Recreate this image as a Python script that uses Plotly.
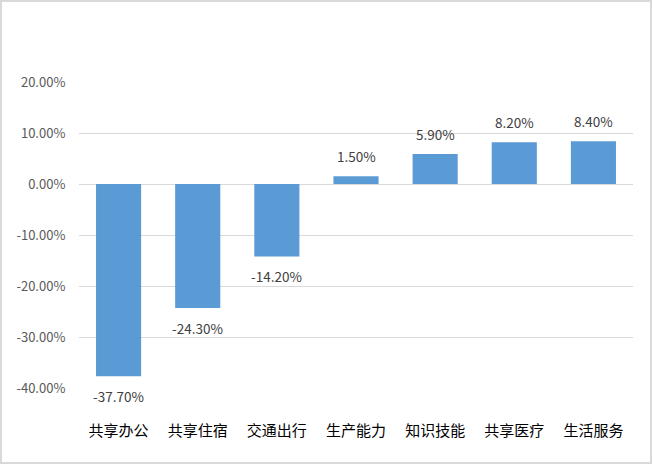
import plotly.graph_objects as go

categories = ["共享办公", "共享住宿", "交通出行", "生产能力", "知识技能", "共享医疗", "生活服务"]
values = [-37.7, -24.3, -14.2, 1.5, 5.9, 8.2, 8.4]
y_tickvals = [-40, -30, -20, -10, 0, 10, 20]
y_ticktext = [f"{v:.2f}%" for v in y_tickvals]
labels = [f"{v:.2f}%" for v in values]

W, H = 652, 464
ml, mr, mt, mb = 79, 19, 82, 76
pw, ph = W - ml - mr, H - mt - mb

fig = go.Figure(go.Bar(
    x=categories, y=values,
    marker=dict(color="#5B9BD5", line=dict(width=0)),
    cliponaxis=False,
    width=0.57,
    hoverinfo="skip",
))

annotations = [
    dict(x=c, y=v, xref="x", yref="y", text=t, showarrow=False,
         yanchor="middle", yshift=20 if v >= 0 else -20,
         font=dict(size=13.5, color="#404040", family="Noto Sans CJK SC"))
    for c, v, t in zip(categories, values, labels)
]

fig.update_layout(
    width=W, height=H,
    margin=dict(l=ml, r=mr, t=mt, b=mb),
    paper_bgcolor="white", plot_bgcolor="white",
    showlegend=False,
    font=dict(family="Noto Sans CJK SC"),
    annotations=annotations,
    xaxis=dict(
        showgrid=False, showline=False, zeroline=False,
        ticks="outside", ticklen=29, tickcolor="rgba(0,0,0,0)",
        tickfont=dict(size=15, color="#000000", family="Noto Sans CJK SC"),
    ),
    yaxis=dict(
        range=[-40, 20], tickvals=y_tickvals, ticktext=y_ticktext,
        showgrid=True, gridcolor="#D9D9D9", gridwidth=1,
        zeroline=True, zerolinecolor="#D9D9D9", zerolinewidth=1,
        showline=False,
        tickfont=dict(size=13, color="#595959", family="Noto Sans CJK SC"),
        ticks="outside", ticklen=10, tickcolor="rgba(0,0,0,0)",
    ),
    shapes=[dict(
        type="rect", xref="paper", yref="paper",
        x0=(-ml + 1) / pw, x1=(W - ml - 1) / pw,
        y0=(-mb + 1) / ph, y1=(H - mb - 1) / ph,
        line=dict(color="#D9D9D9", width=2), layer="below",
    )],
)

fig.write_html("out.html", config={"displayModeBar": False})

with open("out.html", "r", encoding="utf-8") as f:
    html = f.read()
html = html.replace("<body>", '<body style="margin:0;padding:0;overflow:hidden">', 1)
with open("out.html", "w", encoding="utf-8") as f:
    f.write(html)
